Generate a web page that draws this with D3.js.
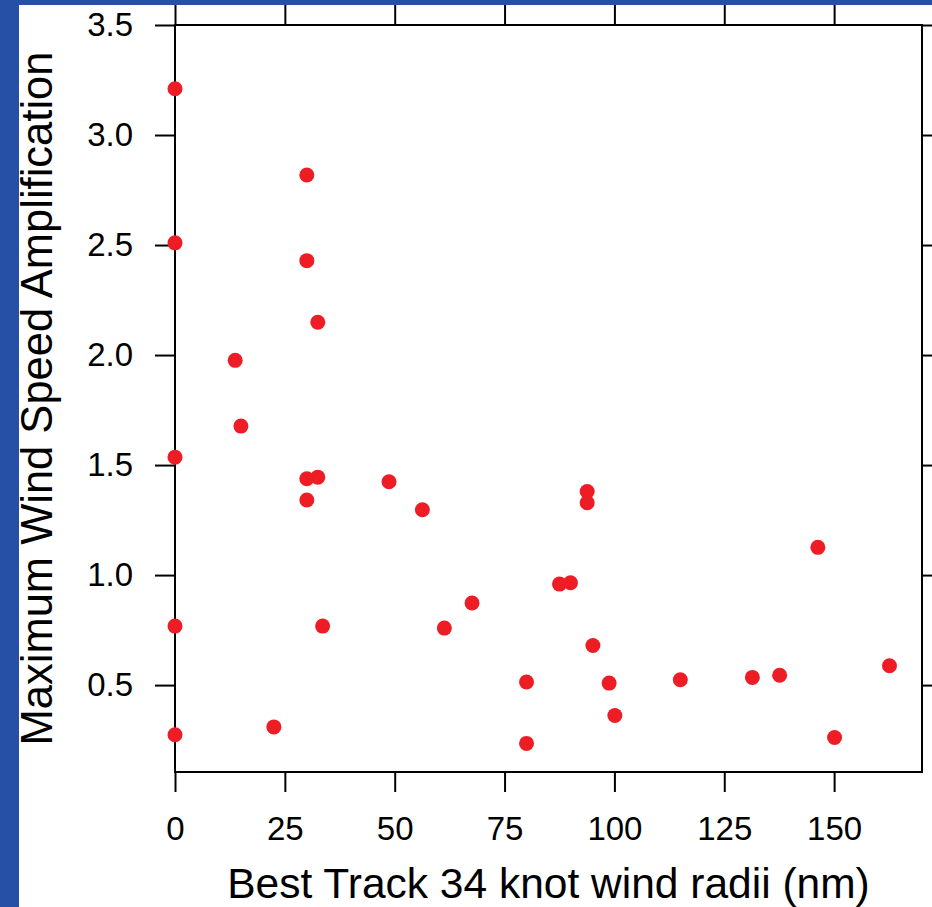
<!DOCTYPE html>
<html>
<head>
<meta charset="utf-8">
<script src="https://cdn.jsdelivr.net/npm/d3@7"></script>
<style>
  html, body { margin: 0; padding: 0; background: #2550a5; }
  svg { display: block; font-family: "Liberation Sans", Arial, Helvetica, sans-serif; }
</style>
</head>
<body>
<svg id="chart" width="932" height="907"></svg>
<script>
// Best track 34 kt wind radii (nm)
const radii = [
  0, 0, 0, 0, 0,
  22.5, 13.7, 15.0,
  30.0, 30.0, 32.5, 30.0, 32.5, 30.0, 33.6,
  48.7, 56.3, 67.6, 61.3,
  80.0, 80.0, 87.5, 90.0, 93.8, 93.8, 95.1, 98.8, 100.1,
  115.0, 131.4, 137.6, 146.3, 150.1, 162.6
];
// Maximum wind speed amplification
const amplification = [
  3.21, 2.51, 1.536, 0.768, 0.274,
  0.31, 1.976, 1.677,
  2.818, 2.429, 2.149, 1.438, 1.445, 1.341, 0.768,
  1.424, 1.297, 0.873, 0.759,
  0.514, 0.235, 0.959, 0.965, 1.38, 1.329, 0.68, 0.509, 0.362,
  0.524, 0.535, 0.545, 1.126, 0.262, 0.588
];
const xTicks = [0, 25, 50, 75, 100, 125, 150];
const yTicks = [0.5, 1.0, 1.5, 2.0, 2.5, 3.0, 3.5];
const xTitle = "Best Track 34 knot wind radii (nm)";
const yTitle = "Maximum Wind Speed Amplification";

(function () {
  const svg = d3.select("#chart");
  const W = 932, H = 907;
  const plotL = 175, plotR = 922, plotT = 25, plotB = 772;

  // white panel inside the blue slide background
  svg.append("rect")
    .attr("x", 19).attr("y", 5)
    .attr("width", W - 19).attr("height", H - 5)
    .attr("fill", "#fff");

  const x = d3.scaleLinear().domain([0, 170]).range([plotL, plotR]);
  const y = d3.scaleLinear().domain([0.105, 3.5]).range([plotB, plotT]);

  function styleAxis(g) {
    g.select(".domain").remove();
    g.selectAll(".tick line").attr("stroke", "#000").attr("stroke-width", 2);
    g.selectAll(".tick text").attr("fill", "#000").style("font-size", "33px");
  }

  svg.append("g")
    .attr("transform", `translate(0,${plotB})`)
    .call(d3.axisBottom(x).tickValues(xTicks).tickSize(20).tickPadding(25).tickFormat(d3.format("d")))
    .call(styleAxis);

  svg.append("g")
    .attr("transform", `translate(0,${plotT})`)
    .call(d3.axisTop(x).tickValues(xTicks).tickSize(20).tickFormat(""))
    .call(styleAxis);

  svg.append("g")
    .attr("transform", `translate(${plotL},0)`)
    .call(d3.axisLeft(y).tickValues(yTicks).tickSize(20).tickPadding(22).tickFormat(d3.format(".1f")))
    .call(styleAxis);

  svg.append("g")
    .attr("transform", `translate(${plotR},0)`)
    .call(d3.axisRight(y).tickValues(yTicks).tickSize(20).tickFormat(""))
    .call(styleAxis);

  // plot frame
  svg.append("rect")
    .attr("x", plotL).attr("y", plotT)
    .attr("width", plotR - plotL).attr("height", plotB - plotT)
    .attr("fill", "none")
    .attr("stroke", "#000")
    .attr("stroke-width", 2);

  const points = radii.map((r, i) => ({ r: r, a: amplification[i] }));

  svg.append("g")
    .selectAll("circle")
    .data(points)
    .enter()
    .append("circle")
    .attr("cx", d => x(d.r))
    .attr("cy", d => y(d.a))
    .attr("r", 7.5)
    .attr("fill", "#ee1d25");

  svg.append("text")
    .attr("x", (plotL + plotR) / 2)
    .attr("y", 898)
    .attr("text-anchor", "middle")
    .style("font-size", "42.5px")
    .text(xTitle);

  svg.append("text")
    .attr("transform", `translate(52,${(plotT + plotB) / 2}) rotate(-90)`)
    .attr("text-anchor", "middle")
    .style("font-size", "43.5px")
    .text(yTitle);
})();
</script>
</body>
</html>
